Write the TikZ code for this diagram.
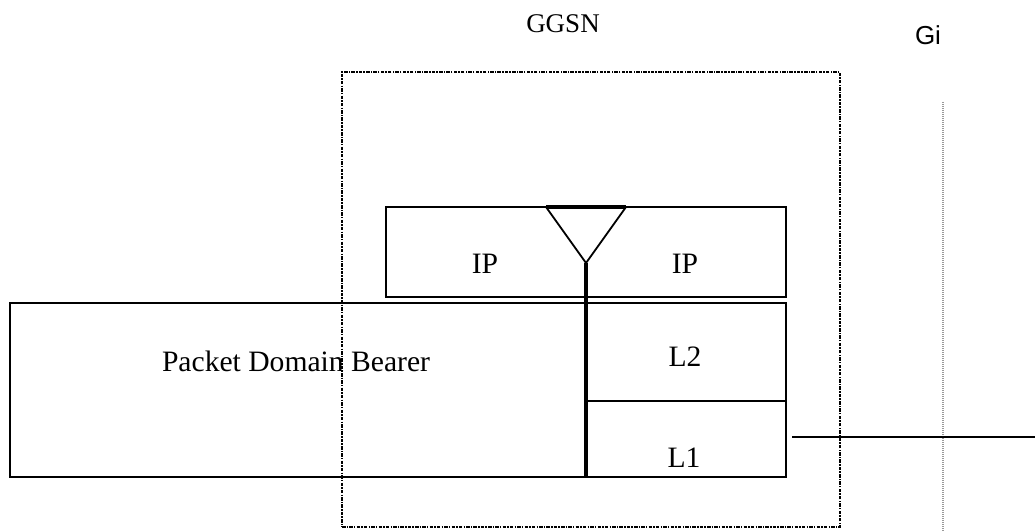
\documentclass[tikz,border=0pt]{standalone}
\usepackage{fontspec}
\setmainfont{Liberation Serif}
\newfontfamily\arialfont{Liberation Sans}
\begin{document}
\begin{tikzpicture}[x=1pt,y=-1pt,
  blk/.style={draw=black,line width=2.8pt,inner sep=0pt,outer sep=0pt,anchor=north west},
  lbl/.style={inner sep=0pt,anchor=base,font=\fontsize{29.6}{31}\selectfont},
  ggsnbox/.style={draw=black,line width=1.7pt,dash pattern=on 3.5pt off 1.2pt on 1.4pt off 1.2pt},
  gidot/.style={draw=gray!80,line width=1.2pt,dash pattern=on 1pt off 1pt},
  thick line/.style={line width=4pt}]
\useasboundingbox (0,0) rectangle (1035,532);
% GGSN dashed box
\node[ggsnbox,inner sep=0pt,outer sep=0pt,anchor=north west,minimum width=498pt,minimum height=455pt] (ggsn) at (342,72) {};
% Gi interface line
\coordinate (gitop) at (943,102);
\coordinate (gibot) at (943,532);
\draw[gidot] (gitop) -- (gibot);
% IP box
\node[blk,minimum width=400pt,minimum height=90pt] (ipbox) at (386,207) {};
% Bearer box
\node[blk,minimum width=576pt,minimum height=174pt] (bearer) at (10,303) {};
% L2 and L1
\node[blk,minimum width=200pt,minimum height=98pt] (ltwo) at (586,303) {};
\node[blk,minimum width=200pt,minimum height=76pt] (lone) at (586,401) {};
% triangle
\coordinate (tl) at (546,207);
\coordinate (tr) at (626,207);
\coordinate (apex) at (586,263);
\draw[line width=1.8pt,line join=miter] (tl) -- (apex) -- (tr);
\draw[thick line] (tl) -- (tr);
\draw[thick line] (apex) -- (apex |- bearer.south);
% outgoing line
\coordinate (linestart) at (792,437);
\coordinate (lineend) at (1035,437);
\draw[line width=2.8pt] (linestart) -- (lineend);
% labels
\node[lbl] (ipl) at (485,273) {IP};
\node[lbl] (ipr) at (685,273) {IP};
\node[lbl] (l2) at (685,366) {L2};
\node[lbl] (l1) at (684,467) {L1};
\node[lbl] (pdb) at (296,371) {Packet Domain Bearer};
\node[lbl,font=\fontsize{27}{29}\selectfont] (ggsnlbl) at (563,33) {GGSN};
\node[lbl,font=\arialfont\fontsize{26}{28}\selectfont] (gi) at (928,45) {Gi};
\end{tikzpicture}
\end{document}
